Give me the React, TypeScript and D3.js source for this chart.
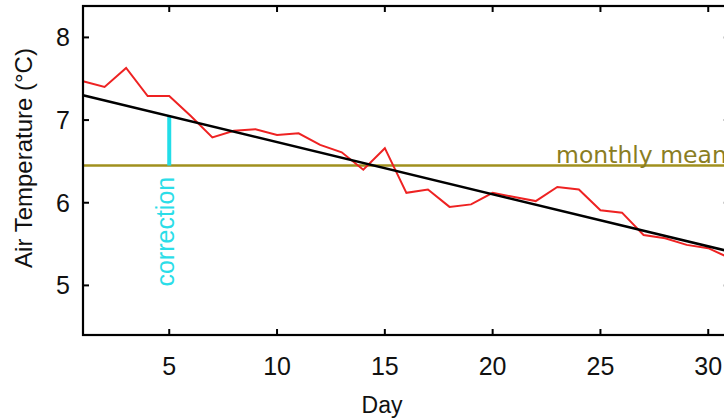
import * as d3 from "d3";
import {useEffect, useRef} from "react";

// daily air temperature (°C)
const days = [1, 2, 3, 4, 5, 6, 7, 8, 9, 10, 11, 12, 13, 14, 15, 16, 17, 18, 19, 20, 21, 22, 23, 24, 25, 26, 27, 28, 29, 30, 31];
const temps = [7.47, 7.40, 7.63, 7.29, 7.29, 7.05, 6.79, 6.87, 6.89, 6.82, 6.84, 6.70, 6.61, 6.40, 6.66, 6.12, 6.16, 5.95, 5.98, 6.12, 6.07, 6.02, 6.19, 6.16, 5.91, 5.88, 5.61, 5.57, 5.49, 5.45, 5.33];

// linear trend end points and monthly mean
const trendDays = [1, 31];
const trendTemps = [7.30, 5.41];
const monthlyMean = 6.45;
const correctionDay = 5;

const xTicks = [5, 10, 15, 20, 25, 30];
const yTicks = [5, 6, 7, 8];

const W = 724, H = 418;
const FONT = "'Liberation Sans', Arial, sans-serif";

function TempChart() {
    const svgRef = useRef(null);

    useEffect(() => {
        const svg = d3.select(svgRef.current);
        svg.selectAll("*").remove();

        const x = d3.scaleLinear().domain([1, 31]).range([83, 729.8]);
        const y = d3.scaleLinear().domain([4.4, 8.38]).range([335, 6]);
        const trend = d3.scaleLinear().domain(trendDays).range(trendTemps);

        const [x0, x1] = x.range();
        const [y0, y1] = y.range();

        svg.append("rect")
            .attr("width", W).attr("height", H).attr("fill", "#fff");

        // mean line
        svg.append("line")
            .attr("x1", x0).attr("x2", x1)
            .attr("y1", y(monthlyMean)).attr("y2", y(monthlyMean))
            .attr("stroke", "#a0901e").attr("stroke-width", 2.5);

        svg.append("text")
            .attr("x", 556).attr("y", y(monthlyMean) - 3)
            .attr("font-family", "'DejaVu Sans', sans-serif").attr("font-size", 23.5)
            .attr("fill", "#8a7d22")
            .text("monthly mean");

        // correction bar
        svg.append("line")
            .attr("x1", x(correctionDay)).attr("x2", x(correctionDay))
            .attr("y1", y(trend(correctionDay))).attr("y2", y(monthlyMean))
            .attr("stroke", "#22dde8").attr("stroke-width", 4);

        svg.append("text")
            .attr("transform", `translate(${x(correctionDay) + 5},${y(monthlyMean) + 121}) rotate(-90)`)
            .attr("font-family", FONT).attr("font-size", 25)
            .attr("fill", "#2bdde8")
            .text("correction");

        // daily temperature
        const line = d3.line()
            .x((d, i) => x(days[i]))
            .y(d => y(d));

        svg.append("path")
            .datum(temps)
            .attr("d", line)
            .attr("fill", "none")
            .attr("stroke", "#ee2222").attr("stroke-width", 2);

        // trend
        svg.append("line")
            .attr("x1", x(trendDays[0])).attr("y1", y(trendTemps[0]))
            .attr("x2", x(trendDays[1])).attr("y2", y(trendTemps[1]))
            .attr("stroke", "#000").attr("stroke-width", 2.5);

        // frame
        svg.append("rect")
            .attr("x", x0).attr("y", y1)
            .attr("width", x1 - x0).attr("height", y0 - y1)
            .attr("fill", "none").attr("stroke", "#000").attr("stroke-width", 2.2);

        const tk = 6;
        xTicks.forEach(t => {
            svg.append("line").attr("x1", x(t)).attr("x2", x(t)).attr("y1", y0).attr("y2", y0 - tk)
                .attr("stroke", "#000").attr("stroke-width", 2);
            svg.append("line").attr("x1", x(t)).attr("x2", x(t)).attr("y1", y1).attr("y2", y1 + tk)
                .attr("stroke", "#000").attr("stroke-width", 2);
            svg.append("text")
                .attr("x", x(t)).attr("y", 375)
                .attr("text-anchor", "middle")
                .attr("font-family", FONT).attr("font-size", 25).attr("fill", "#111")
                .text(t);
        });
        yTicks.forEach(t => {
            svg.append("line").attr("x1", x0).attr("x2", x0 + tk).attr("y1", y(t)).attr("y2", y(t))
                .attr("stroke", "#000").attr("stroke-width", 2);
            svg.append("line").attr("x1", x1).attr("x2", x1 - tk).attr("y1", y(t)).attr("y2", y(t))
                .attr("stroke", "#000").attr("stroke-width", 2);
            svg.append("text")
                .attr("x", 63).attr("y", y(t) + 9)
                .attr("text-anchor", "middle")
                .attr("font-family", FONT).attr("font-size", 25).attr("fill", "#111")
                .text(t);
        });

        svg.append("text")
            .attr("x", 382).attr("y", 413)
            .attr("text-anchor", "middle")
            .attr("font-family", FONT).attr("font-size", 23).attr("fill", "#111")
            .text("Day");

        svg.append("text")
            .attr("transform", `translate(32,158) rotate(-90)`)
            .attr("text-anchor", "middle")
            .attr("font-family", FONT).attr("font-size", 24).attr("fill", "#111")
            .text("Air Temperature (°C)");
    }, []);

    return (
        <svg
            ref={svgRef}
            width={W}
            height={H}
            style={{position: "absolute", left: 0, top: 0}}
        />
    );
}

export default function App() {
    return <TempChart/>;
}
